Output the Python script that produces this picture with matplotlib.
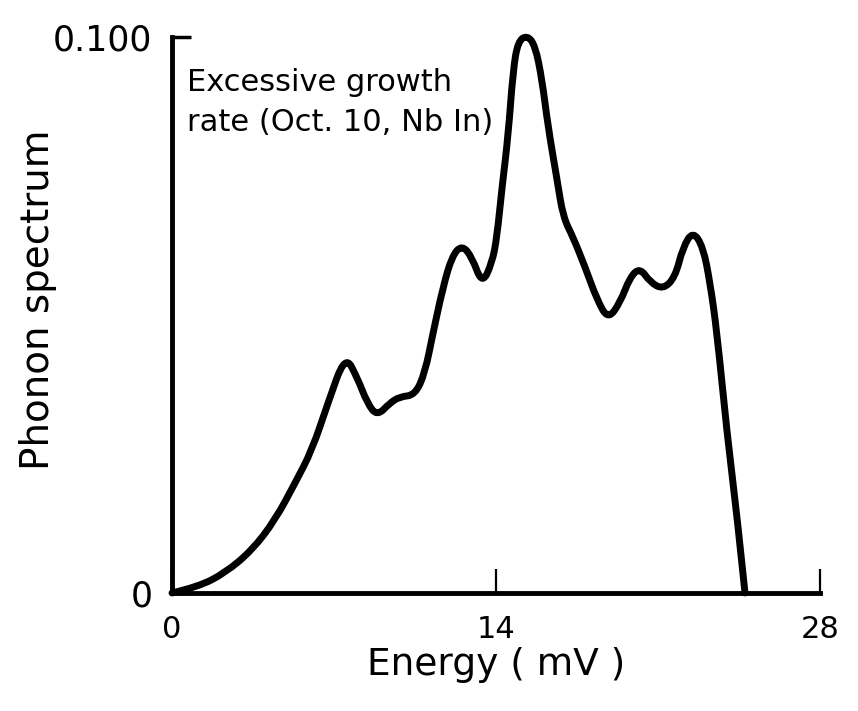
import matplotlib
matplotlib.use("Agg")
import matplotlib.pyplot as plt
from matplotlib.path import Path
from matplotlib.patches import PathPatch

plt.rcParams["font.family"] = ["DejaVu Sans"]

# values
energy = [0.00, 1.12, 2.29, 3.46, 4.45, 5.32, 6.05, 6.74, 7.48, 8.00,
          8.43, 8.86, 9.42, 9.85, 10.50, 10.93, 11.28, 11.71, 12.10, 12.53,
          12.96, 13.40, 13.83, 14.04, 14.26, 14.52, 14.74, 14.95, 15.34, 15.69,
          15.99, 16.25, 16.64, 16.90, 17.33, 17.85, 18.37, 18.84, 19.36, 19.79,
          20.22, 20.66, 21.22, 21.74, 22.08, 22.51, 22.95, 23.25, 23.55, 23.98,
          24.42, 24.76]
spectrum = [0.0000, 0.0011, 0.0036, 0.0077, 0.0131, 0.0198, 0.0257, 0.0342, 0.0428, 0.0388,
            0.0342, 0.0318, 0.0342, 0.0353, 0.0356, 0.0396, 0.0468, 0.0550, 0.0606, 0.0626,
            0.0604, 0.0555, 0.0594, 0.0640, 0.0730, 0.0820, 0.0941, 0.0992, 0.1003, 0.0985,
            0.0923, 0.0838, 0.0743, 0.0676, 0.0640, 0.0586, 0.0527, 0.0492, 0.0522, 0.0568,
            0.0585, 0.0559, 0.0546, 0.0568, 0.0622, 0.0651, 0.0622, 0.0558, 0.0468, 0.0288,
            0.0137, 0.0000]
xticks = [0, 14, 28]
xticklabels = ["0", "14", "28"]
yticks = [0, 0.1]
yticklabels = ["0", "0.100"]

fig = plt.figure(figsize=(8.58, 7.11), dpi=100)
ax = fig.add_axes([0.2005, 0.166, 0.7552, 0.782])

# smooth pen stroke: quadratic bezier through midpoints of the read points
pts = list(zip(energy, spectrum))
verts = [pts[0]]
codes = [Path.MOVETO]
for i in range(1, len(pts) - 1):
    mid = ((pts[i][0] + pts[i + 1][0]) / 2, (pts[i][1] + pts[i + 1][1]) / 2)
    if i == len(pts) - 2:
        mid = pts[-1]
    verts += [pts[i], mid]
    codes += [Path.CURVE3, Path.CURVE3]
ax.add_patch(PathPatch(Path(verts, codes), facecolor="none", edgecolor="black",
                       lw=5, joinstyle="round", capstyle="round", clip_on=False))

ax.set_xlim(0, 28)
ax.set_ylim(0, 0.1)
for s in ["top", "right"]:
    ax.spines[s].set_visible(False)
for s in ["left", "bottom"]:
    ax.spines[s].set_linewidth(3.5)

ax.set_xticks(xticks)
ax.set_xticklabels(xticklabels)
ax.set_yticks(yticks)
ax.set_yticklabels(yticklabels)
ax.tick_params(axis="x", direction="in", length=17, width=1.6, labelsize=22, pad=16)
ax.tick_params(axis="y", direction="in", length=14, width=2.5, labelsize=25, pad=14)

ax.set_xlabel("Energy ( mV )", fontsize=27, labelpad=2)
ax.set_ylabel("Phonon spectrum", fontsize=28)
ax.yaxis.set_label_coords(-0.178, 0.527)

ax.text(0.65, 0.0945, "Excessive growth\nrate (Oct. 10, Nb In)", fontsize=22,
        va="top", ha="left", linespacing=1.5)

fig.savefig("out.png", dpi=100, facecolor="white")
